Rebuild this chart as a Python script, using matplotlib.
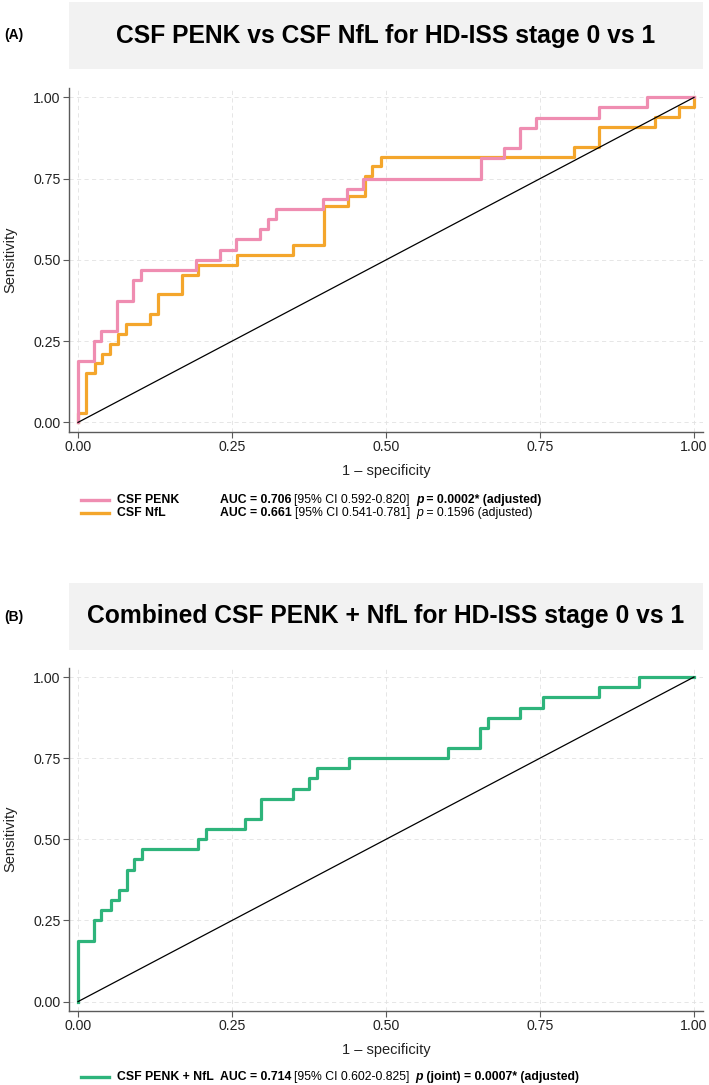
import matplotlib
matplotlib.use("Agg")
import matplotlib.pyplot as plt
from matplotlib.lines import Line2D
from matplotlib.patches import Rectangle

plt.rcParams['font.family'] = ['Liberation Sans', 'DejaVu Sans']

# ROC step corners (1 - specificity, sensitivity)
penk_fpr = [0.0, 0.0, 0.026, 0.038, 0.064, 0.090, 0.103, 0.192, 0.231, 0.256, 0.295, 0.308,
            0.321, 0.397, 0.436, 0.462, 0.654, 0.692, 0.718, 0.744, 0.846, 0.923, 1.0]
penk_tpr = [0.0, 0.188, 0.250, 0.281, 0.375, 0.438, 0.469, 0.500, 0.531, 0.563, 0.594, 0.625,
            0.656, 0.688, 0.719, 0.750, 0.813, 0.844, 0.906, 0.938, 0.969, 1.0, 1.0]

nfl_fpr = [0.0, 0.0, 0.013, 0.027, 0.039, 0.052, 0.065, 0.078, 0.117, 0.130, 0.169, 0.194,
           0.258, 0.349, 0.400, 0.439, 0.466, 0.478, 0.492, 0.806, 0.846, 0.937, 0.975, 1.0]
nfl_tpr = [0.0, 0.030, 0.152, 0.182, 0.212, 0.242, 0.273, 0.303, 0.333, 0.394, 0.455, 0.485,
           0.515, 0.545, 0.667, 0.697, 0.758, 0.788, 0.818, 0.848, 0.909, 0.939, 0.970, 1.0]

combo_fpr = [0.0, 0.0, 0.026, 0.038, 0.053, 0.066, 0.079, 0.091, 0.104, 0.194, 0.207, 0.271,
             0.297, 0.349, 0.375, 0.388, 0.440, 0.600, 0.652, 0.665, 0.717, 0.755, 0.846, 0.910, 1.0]
combo_tpr = [0.0, 0.188, 0.250, 0.281, 0.313, 0.344, 0.406, 0.438, 0.469, 0.500, 0.531, 0.563,
             0.625, 0.656, 0.688, 0.719, 0.750, 0.781, 0.844, 0.875, 0.906, 0.938, 0.969, 1.0, 1.0]

ticks = [0.0, 0.25, 0.5, 0.75, 1.0]
tick_labels = ['0.00', '0.25', '0.50', '0.75', '1.00']

titles = ['CSF PENK vs CSF NfL for HD-ISS stage 0 vs 1',
          'Combined CSF PENK + NfL for HD-ISS stage 0 vs 1']
tags = ['(A)', '(B)']

PINK = '#EF8DB1'
ORANGE = '#F4A62C'
GREEN = '#2EB47B'

W, H = 709, 1085
fig = plt.figure(figsize=(W / 100, H / 100), dpi=100)
renderer = fig.canvas.get_renderer()


def fx(px):
    return px / W


def fy(py):
    return 1 - py / H


def make_axes(top, bottom):
    ax = fig.add_axes([fx(69), fy(bottom), fx(703) - fx(69), fy(top) - fy(bottom)])
    ax.set_xlim(-0.0146, 1.0146)
    ax.set_ylim(-0.028, 1.029)
    ax.set_xticks(ticks)
    ax.set_xticklabels(tick_labels)
    ax.set_yticks(ticks)
    ax.set_yticklabels(tick_labels)
    ax.grid(True, color='#e2e2e2', linestyle=(0, (5, 4)), linewidth=0.6)
    ax.set_axisbelow(True)
    for s in ['top', 'right']:
        ax.spines[s].set_visible(False)
    for s in ['left', 'bottom']:
        ax.spines[s].set_color('#5a5a5a')
        ax.spines[s].set_linewidth(1.0)
    ax.tick_params(length=4, width=0.8, color='#5a5a5a', labelsize=10.2,
                   labelcolor='#222222', pad=2)
    h = bottom - top
    ax.set_xlabel('1 – specificity', fontsize=10.5, color='#222222')
    ax.xaxis.label.set_va('center')
    ax.xaxis.set_label_coords(0.5, -39 / h)
    ax.set_ylabel('Sensitivity', fontsize=10.5, color='#222222')
    ax.yaxis.label.set_va('center')
    ax.yaxis.set_label_coords(-59 / 634, 0.5)
    ax.plot([0, 1], [0, 1], color='black', linewidth=0.9, zorder=5)
    return ax


def title_box(top, bottom, title, tag):
    fig.patches.append(Rectangle((fx(69), fy(bottom)), fx(703) - fx(69), fy(top) - fy(bottom),
                                 transform=fig.transFigure, facecolor='#f2f2f2',
                                 edgecolor='none', zorder=0))
    mid = (top + bottom) / 2
    fig.text(fx(386), fy(mid), title, fontsize=17.7, fontweight='bold',
             ha='center', va='center')
    fig.text(fx(4), fy(mid), tag, fontsize=10, fontweight='bold', ha='left', va='center')


def legend_row(y, color, name, parts):
    fig.lines.append(Line2D([fx(81), fx(109)], [fy(y), fy(y)], color=color,
                            linewidth=2.4, transform=fig.transFigure))
    fig.text(fx(117), fy(y), name, fontsize=8.8, fontweight='bold', ha='left', va='center')
    x = 220
    for text, weight, style, gap in parts:
        t = fig.text(fx(x), fy(y), text, fontsize=8.8, fontweight=weight,
                     fontstyle=style, ha='left', va='center')
        x = t.get_window_extent(renderer).x1 + gap


# (A) PENK vs NfL
ax1 = make_axes(88, 431.5)
ax1.step(nfl_fpr, nfl_tpr, where='post', color=ORANGE, linewidth=2.3, zorder=3)
ax1.step(penk_fpr, penk_tpr, where='post', color=PINK, linewidth=2.3, zorder=4)
title_box(2, 69, titles[0], tags[0])

legend_row(500, PINK, 'CSF PENK', [
    ('AUC = 0.706', 'bold', 'normal', 3),
    ('[95% CI 0.592-0.820]', 'normal', 'normal', 6),
    ('p', 'bold', 'italic', 0),
    (' = 0.0002* (adjusted)', 'bold', 'normal', 0),
])
legend_row(513, ORANGE, 'CSF NfL', [
    ('AUC = 0.661', 'bold', 'normal', 3),
    ('[95% CI 0.541-0.781]', 'normal', 'normal', 6),
    ('p', 'normal', 'italic', 0),
    (' = 0.1596 (adjusted)', 'normal', 'normal', 0),
])

# (B) combined model
ax2 = make_axes(667.6, 1010.7)
ax2.step(combo_fpr, combo_tpr, where='post', color=GREEN, linewidth=2.3, zorder=3)
title_box(583, 650, titles[1], tags[1])

legend_row(1077, GREEN, 'CSF PENK + NfL', [
    ('AUC = 0.714', 'bold', 'normal', 3),
    ('[95% CI 0.602-0.825]', 'normal', 'normal', 6),
    ('p', 'bold', 'italic', 0),
    (' (joint) = 0.0007* (adjusted)', 'bold', 'normal', 0),
])

fig.savefig('out.png', dpi=100)
